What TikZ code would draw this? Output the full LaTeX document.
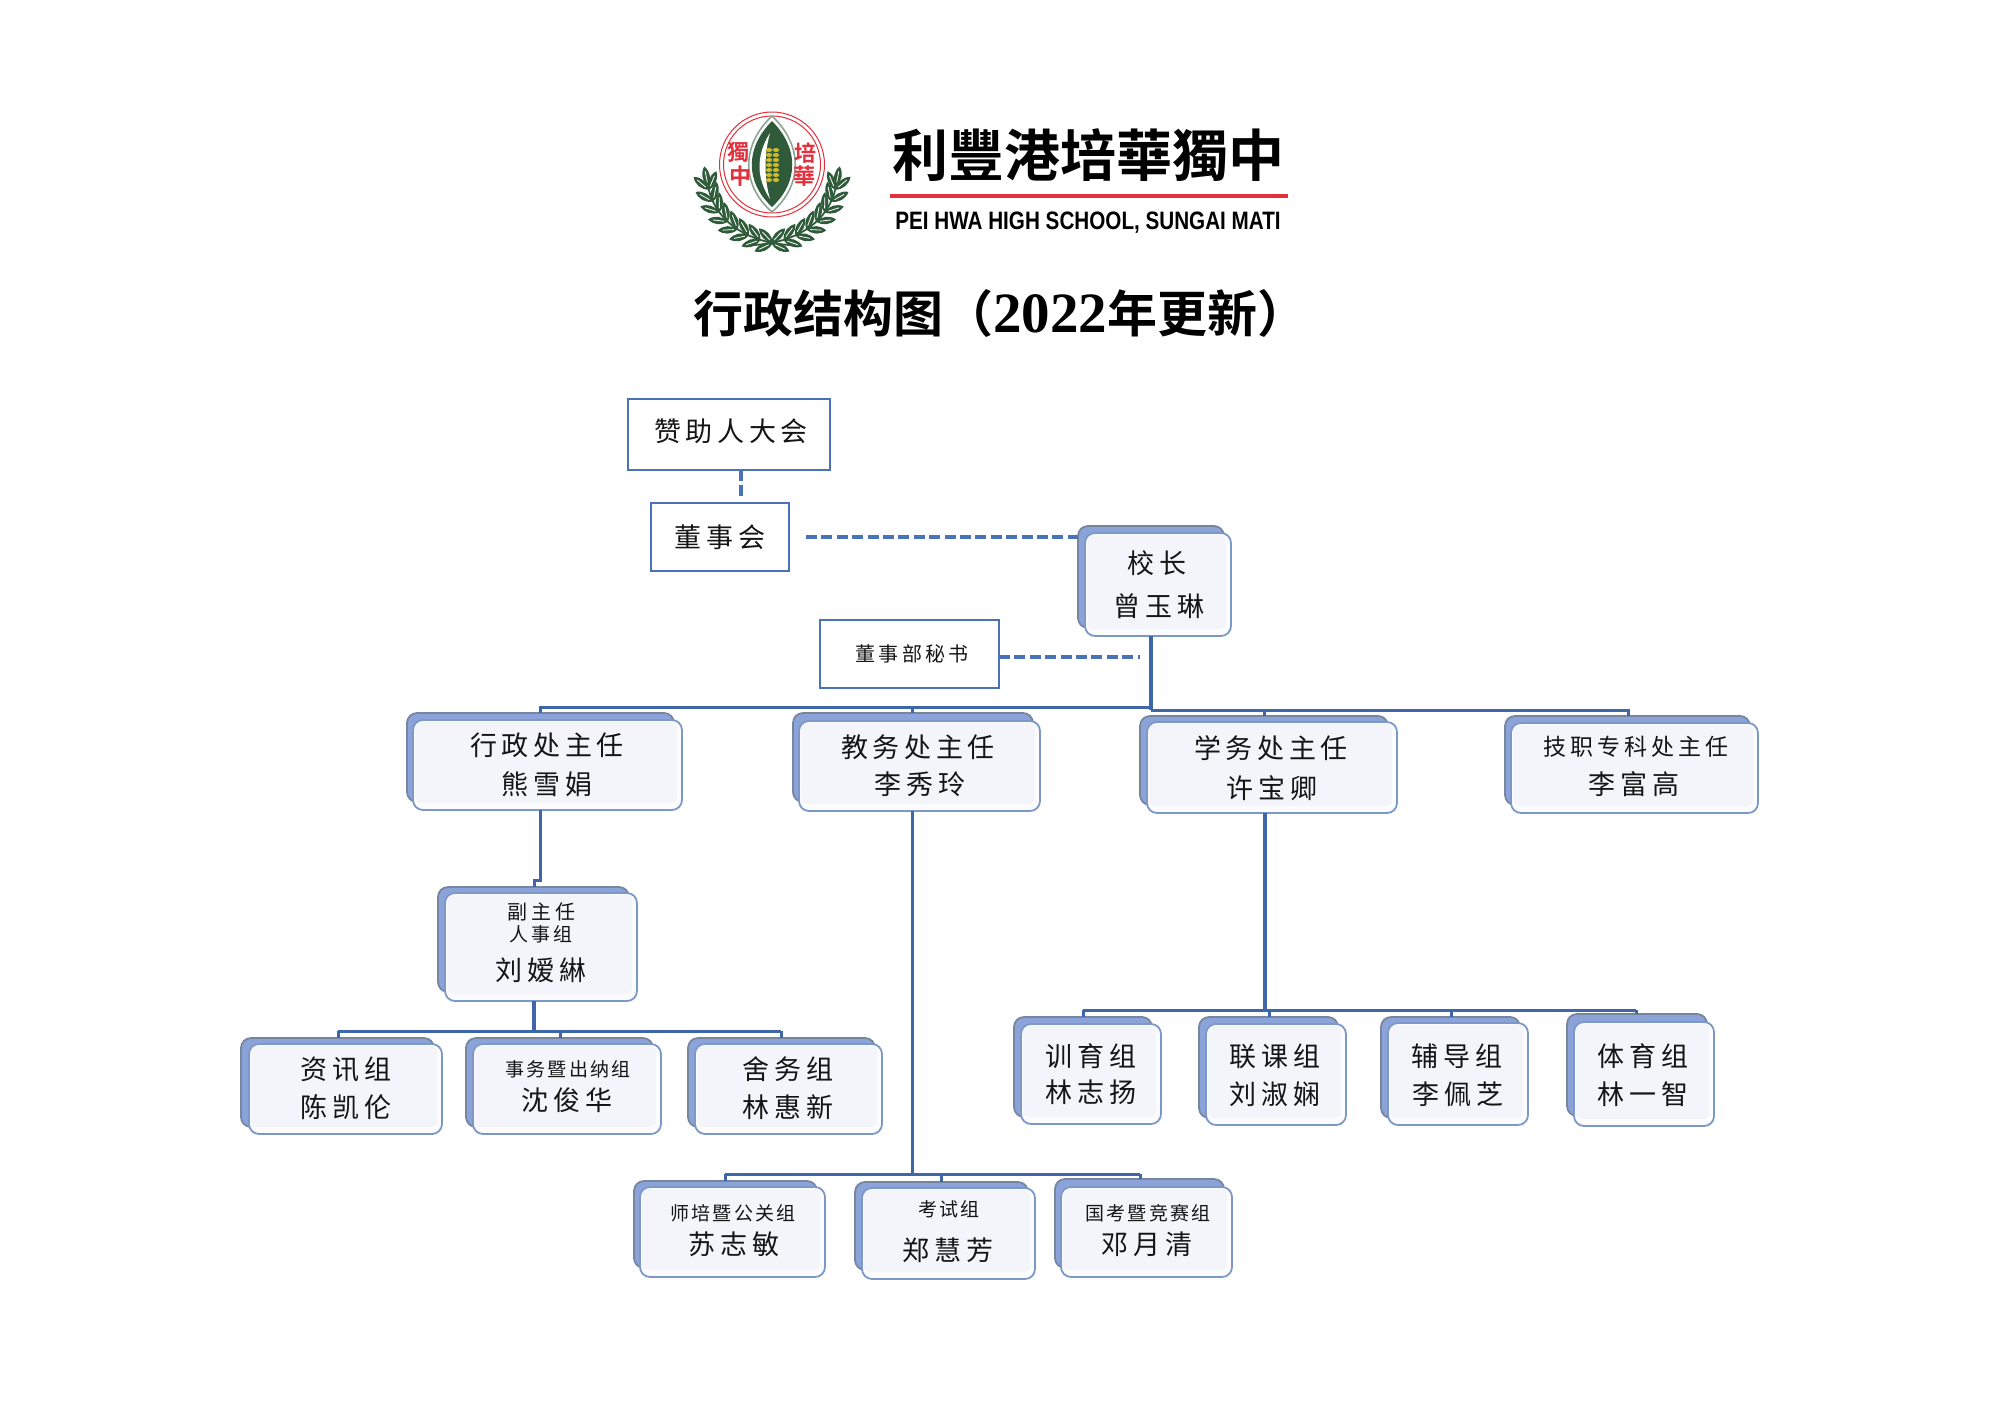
\documentclass[tikz,border=0pt]{standalone}
\usepackage{fontspec}
\usetikzlibrary{decorations.markings}
\setmainfont{Liberation Serif}
\newfontfamily\cjkR{Noto Sans CJK SC}
\newfontfamily\cjkB[BoldFont={Noto Sans CJK SC Bold}]{Noto Sans CJK SC Bold}
\newfontfamily\cjkT{Noto Sans CJK TC Bold}
\newfontfamily\peifont[FakeStretch=0.82]{Liberation Sans Bold}
\newfontfamily\digitfont{Liberation Serif Bold}
\definecolor{frontedge}{HTML}{7B98C8}
\definecolor{frontfill}{HTML}{FCFCFE}
\definecolor{frontin}{HTML}{F3F5FA}
\definecolor{shadefill}{HTML}{8BA3D9}
\definecolor{shadeedge}{HTML}{77869F}
\definecolor{conn}{HTML}{3F66A8}
\definecolor{plainedge}{HTML}{4A72B8}
\definecolor{wreath}{HTML}{2F5B3A}
\definecolor{ringred}{HTML}{E2303C}
\definecolor{wheat}{HTML}{CDBB2A}
\definecolor{inktext}{HTML}{151515}
\tikzset{
  frontbox/.style={draw=frontedge,fill=frontfill,line width=.9pt,rounded corners=5pt,inner sep=0pt,outer sep=0pt},
  shadebox/.style={draw=shadeedge,fill=shadefill,line width=.9pt,rounded corners=5pt,inner sep=0pt,outer sep=0pt},
  plainbox/.style={draw=plainedge,fill=white,line width=1.45pt,inner sep=0pt,outer sep=0pt},
  connline/.style={draw=conn,line width=1.5pt},
  trunkline/.style={draw=conn,line width=1.9pt},
  dashline/.style={draw=plainedge,line width=2pt,dash pattern=on 5.5pt off 2.2pt},
  lbl/.style={inner sep=0pt,outer sep=0pt,text=inktext},
  stem/.style={draw=wreath,line width=.9pt},
  leafmarks/.style={postaction={decorate,decoration={markings,
     mark=between positions .16 and .98 step .115 with {\myleaf{36}\myleaf{-36}},
     mark=at position 1 with {\myleaf{0}}}}}
}
\newcommand\myleaf[1]{%
  \fill[wreath,rotate=#1] (0,0) .. controls (6,5) and (14,5) .. (20,0) .. controls (14,-5) and (6,-5) .. (0,0);
  \draw[white,line width=.4pt,rotate=#1] (4,0) -- (15,0);}
% name, shadow x1 y1 x2 y2, front x1 y1 x2 y2
\newcommand\orgbox[9]{%
  \node[shadebox,minimum width={(#4-#2)*0.5pt},minimum height={(#5-#3)*0.5pt}] (#1-s) at ({(#2+#4)/2},{(#3+#5)/2}) {};
  \node[frontbox,minimum width={(#8-#6)*0.5pt},minimum height={(#9-#7)*0.5pt}] (#1) at ({(#6+#8)/2},{(#7+#9)/2}) {};
  \fill[frontin,rounded corners=3pt] ({#6+2},{#7+2}) rectangle ({#8-5},{#9-7});}
\newcommand\plainb[5]{%
  \node[plainbox,minimum width={(#4-#2)*0.5pt},minimum height={(#5-#3)*0.5pt}] (#1) at ({(#2+#4)/2},{(#3+#5)/2}) {};}
% name, x, y, size, letterspace, text
\newcommand\boxtxt[6]{%
  \node[lbl] (#1) at (#2,#3) {\cjkR\fontsize{#4}{#4}\selectfont\addfontfeature{LetterSpace=#5}#6};}
\begin{document}
\begin{tikzpicture}[x=0.5pt,y=-0.5pt]
\fill[white] (0,0) rectangle (2000,1414);
\useasboundingbox (0,0) rectangle (2000,1414);

% ---- logo
\draw[stem,leafmarks] (790,245) .. controls (750,243) and (715,223) .. (708,186);
\draw[stem,leafmarks] (754,245) .. controls (794,243) and (829,223) .. (836,186);
\draw[ringred,line width=.5pt] (772,164.5) circle (52.5);
\draw[ringred,line width=.5pt] (772,164.5) circle (48.5);
\filldraw[fill=white,draw=wreath!55,line width=.8pt] (772,116) .. controls (741,145) and (741,185) .. (772,212) .. controls (803,185) and (803,145) .. (772,116) -- cycle;
\fill[wreath] (772,121) .. controls (745,148) and (745,182) .. (772,207) .. controls (799,182) and (799,148) .. (772,121) -- cycle;
\fill[white] (770,133) .. controls (756,155) and (756,178) .. (770,199) .. controls (764,178) and (764,155) .. (770,133) -- cycle;
\foreach \wy in {150,155,160,165,170,175,180}{
  \fill[wheat] (769,\wy) ellipse (3.2 and 2);
  \fill[wheat] (776,\wy) ellipse (3.2 and 2);}
\node[inner sep=0pt,text=ringred] (logo1) at (738,152) {\cjkT\fontsize{11}{11}\selectfont 獨};
\node[inner sep=0pt,text=ringred] (logo2) at (740,176) {\cjkT\fontsize{11}{11}\selectfont 中};
\node[inner sep=0pt,text=ringred] (logo3) at (805,153) {\cjkT\fontsize{11}{11}\selectfont 培};
\node[inner sep=0pt,text=ringred] (logo4) at (804,176) {\cjkT\fontsize{11}{11}\selectfont 華};
\node[inner sep=0pt] (schoolname) at (1088,155) {\cjkT\fontsize{28}{28}\selectfont 利豐港培華獨中};
\fill[ringred] (890,194) rectangle (1288,198);
\node[inner sep=0pt] (schooleng) at (1088,223) {\peifont\fontsize{12.6}{12.6}\selectfont PEI HWA HIGH SCHOOL, SUNGAI MATI};
\node[inner sep=0pt] (title) at (1000,313) {\cjkB\fontsize{25}{25}\selectfont 行政结构图（{\digitfont\fontsize{28.5}{28.5}\selectfont 2022}年更新）};

% ---- plain boxes
\plainb{zanzhu}{628}{399}{830}{470}
\plainb{dongshi}{651}{503}{789}{571}
\plainb{mishu}{820}{620}{999}{688}
% ---- shaded boxes
\orgbox{xiaozhang}{1078}{526}{1224}{628}{1085}{533}{1231}{636}
\orgbox{xingzheng}{407}{713}{674}{802}{413}{720}{682}{810}
\orgbox{jiaowu}{793}{713}{1033}{802}{799}{721}{1040}{811}
\orgbox{xuewu}{1140}{716}{1388}{805}{1147}{722}{1397}{813}
\orgbox{jizhi}{1505}{716}{1750}{805}{1511}{723}{1758}{813}
\orgbox{fuzhu}{438}{887}{629}{992}{445}{893}{637}{1001}
\orgbox{zixun}{241}{1038}{434}{1127}{249}{1044}{442}{1134}
\orgbox{shiwu}{466}{1038}{653}{1127}{473}{1044}{661}{1134}
\orgbox{shewu}{688}{1038}{875}{1127}{695}{1044}{882}{1134}
\orgbox{shipei}{634}{1181}{817}{1268}{640}{1187}{825}{1277}
\orgbox{kaoshi}{855}{1182}{1028}{1270}{862}{1188}{1035}{1279}
\orgbox{guokao}{1055}{1179}{1224}{1268}{1061}{1187}{1232}{1277}
\orgbox{xunyu}{1014}{1017}{1152}{1117}{1021}{1024}{1161}{1124}
\orgbox{lianke}{1199}{1017}{1338}{1118}{1206}{1024}{1346}{1125}
\orgbox{fudao}{1381}{1017}{1520}{1118}{1388}{1023}{1528}{1125}
\orgbox{tiyu}{1567}{1014}{1707}{1116}{1574}{1022}{1714}{1126}

% ---- texts
\boxtxt{t1}{731}{431}{13.5}{17}{赞助人大会}
\boxtxt{t2}{720}{537}{13.5}{17}{董事会}
\boxtxt{t3}{912}{654}{10}{17}{董事部秘书}
\boxtxt{t4}{1157}{563}{13.5}{22}{校长}
\boxtxt{t5}{1159}{606}{13.5}{17}{曾玉琳}
\boxtxt{t6}{547}{745}{13.5}{17}{行政处主任}
\boxtxt{t7}{547}{784}{13.5}{17}{熊雪娟}
\boxtxt{t8}{918}{747}{13.5}{17}{教务处主任}
\boxtxt{t9}{920}{784}{13.5}{17}{李秀玲}
\boxtxt{t10}{1271}{748}{13.5}{17}{学务处主任}
\boxtxt{t11}{1272}{788}{13.5}{17}{许宝卿}
\boxtxt{t12}{1636}{747}{11.5}{17}{技职专科处主任}
\boxtxt{t13}{1634}{784}{13.5}{17}{李富高}
\boxtxt{t14}{541}{912}{10}{20}{副主任}
\boxtxt{t15}{541}{934}{9.5}{16}{人事组}
\boxtxt{t16}{541}{970}{13.5}{17}{刘嫒綝}
\boxtxt{t17}{346}{1069}{13.5}{17}{资讯组}
\boxtxt{t18}{346}{1107}{13.5}{17}{陈凯伦}
\boxtxt{t19}{568}{1069}{9.5}{12}{事务暨出纳组}
\boxtxt{t20}{567}{1100}{13.5}{17}{沈俊华}
\boxtxt{t21}{788}{1069}{13.5}{17}{舍务组}
\boxtxt{t22}{788}{1107}{13.5}{17}{林惠新}
\boxtxt{t23}{733}{1213}{9.5}{12}{师培暨公关组}
\boxtxt{t24}{734}{1244}{13.5}{17}{苏志敏}
\boxtxt{t25}{949}{1209}{9.5}{12}{考试组}
\boxtxt{t26}{948}{1250}{13.5}{17}{郑慧芳}
\boxtxt{t27}{1148}{1213}{9.5}{12}{国考暨竞赛组}
\boxtxt{t28}{1147}{1244}{13.5}{17}{邓月清}
\boxtxt{t29}{1091}{1056}{13.5}{17}{训育组}
\boxtxt{t30}{1091}{1092}{13.5}{17}{林志扬}
\boxtxt{t31}{1275}{1056}{13.5}{17}{联课组}
\boxtxt{t32}{1275}{1094}{13.5}{17}{刘淑娴}
\boxtxt{t33}{1457}{1056}{13.5}{17}{辅导组}
\boxtxt{t34}{1458}{1094}{13.5}{17}{李佩芝}
\boxtxt{t35}{1643}{1056}{13.5}{17}{体育组}
\boxtxt{t36}{1643}{1094}{13.5}{17}{林一智}

% ---- connector waypoints
\coordinate (j0) at (1151,707);
\coordinate (j1) at (1151,710);
\coordinate (bA) at (540,707);
\coordinate (bB) at (912,707);
\coordinate (bC) at (1264,710);
\coordinate (bD) at (1628,710);
\coordinate (jogA) at (540,880);
\coordinate (jogB) at (534,880);
\coordinate (fuJ) at (534,1031);
\coordinate (bE) at (338,1031);
\coordinate (bF) at (560,1031);
\coordinate (bG) at (781,1031);
\coordinate (jwJ) at (912.5,1174);
\coordinate (bH) at (725,1174);
\coordinate (bI) at (941,1174);
\coordinate (bJ) at (1140,1174);
\coordinate (xwJ) at (1265,1010);
\coordinate (bK) at (1083,1010);
\coordinate (bL) at (1269,1010);
\coordinate (bM) at (1451,1010);
\coordinate (bN) at (1636,1010);
\coordinate (dA) at (741,498);
\coordinate (dB) at (806,537);
\coordinate (dC) at (1140,657);

% ---- connectors
\draw[dashline] (zanzhu.south -| dA) -- (dA);
\draw[dashline] (dB) -- (xiaozhang-s.west |- dB);
\draw[dashline] (mishu.east |- dC) -- (dC);
\draw[trunkline] (xiaozhang.south -| j0) -- (j1);
\draw[connline] (j0) -- (bA) -- (xingzheng-s.north -| bA);
\draw[connline] (bB) -- (jiaowu-s.north -| bB);
\draw[connline] (j1) -- (bD) -- (jizhi-s.north -| bD);
\draw[connline] (bC) -- (xuewu-s.north -| bC);
\draw[connline] (xingzheng.south -| jogA) -- (jogA) -- (jogB) -- (fuzhu-s.north -| jogB);
\draw[trunkline] (fuzhu.south -| fuJ) -- (fuJ);
\draw[connline] (bE) -- (bG);
\draw[connline] (bE) -- (zixun-s.north -| bE);
\draw[connline] (bF) -- (shiwu-s.north -| bF);
\draw[connline] (bG) -- (shewu-s.north -| bG);
\draw[trunkline] (jiaowu.south -| jwJ) -- (jwJ);
\draw[connline] (bH) -- (bJ);
\draw[connline] (bH) -- (shipei-s.north -| bH);
\draw[connline] (bI) -- (kaoshi-s.north -| bI);
\draw[connline] (bJ) -- (guokao-s.north -| bJ);
\draw[trunkline] (xuewu.south -| xwJ) -- (xwJ);
\draw[connline] (bK) -- (bN);
\draw[connline] (bK) -- (xunyu-s.north -| bK);
\draw[connline] (bL) -- (lianke-s.north -| bL);
\draw[connline] (bM) -- (fudao-s.north -| bM);
\draw[connline] (bN) -- (tiyu-s.north -| bN);
\end{tikzpicture}
\end{document}
